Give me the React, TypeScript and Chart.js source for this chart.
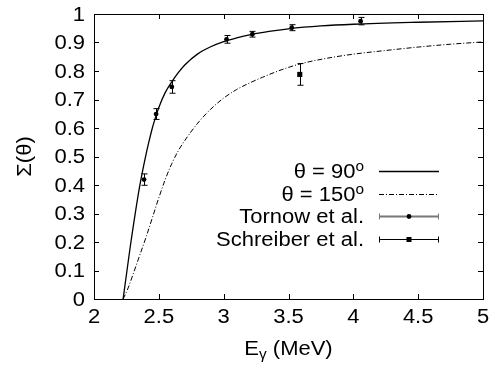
import React, { useEffect, useRef } from "react";
import { Chart, registerables } from "chart.js";

Chart.register(...registerables);

// ---------- data ----------
const xTicks = [2, 2.5, 3, 3.5, 4, 4.5, 5];
const xTickLabels = ["2", "2.5", "3", "3.5", "4", "4.5", "5"];
const yTicks = [0, 0.1, 0.2, 0.3, 0.4, 0.5, 0.6, 0.7, 0.8, 0.9, 1];
const yTickLabels = ["0", "0.1", "0.2", "0.3", "0.4", "0.5", "0.6", "0.7", "0.8", "0.9", "1"];

const curve90X = [2.2246, 2.25, 2.28, 2.3, 2.35, 2.4, 2.42, 2.45, 2.48, 2.5, 2.55, 2.6, 2.65, 2.7, 2.8, 2.9, 3.0, 3.1, 3.2, 3.35, 3.5, 3.75, 4.0, 4.5, 5.0];
const curve90Y = [0, 0.085, 0.185, 0.247, 0.39, 0.505, 0.545, 0.6, 0.645, 0.672, 0.725, 0.762, 0.794, 0.821, 0.86, 0.885, 0.903, 0.916, 0.927, 0.939, 0.948, 0.958, 0.964, 0.971, 0.976];

const curve150X = [2.2246, 2.26, 2.3, 2.35, 2.4, 2.45, 2.5, 2.55, 2.6, 2.65, 2.7, 2.8, 2.9, 3.0, 3.1, 3.2, 3.3, 3.45, 3.6, 3.8, 4.0, 4.25, 4.5, 4.75, 5.0];
const curve150Y = [0, 0.035, 0.085, 0.15, 0.215, 0.285, 0.355, 0.42, 0.475, 0.52, 0.556, 0.617, 0.666, 0.705, 0.735, 0.758, 0.778, 0.805, 0.826, 0.845, 0.859, 0.872, 0.884, 0.894, 0.902];

const tornowX = [2.386, 2.479, 2.6, 3.022, 3.221, 3.525, 4.056];
const tornowY = [0.419, 0.649, 0.744, 0.911, 0.929, 0.952, 0.975];
const tornowErr = [0.02, 0.019, 0.022, 0.0135, 0.01, 0.0105, 0.013];

const schreiberX = [3.587];
const schreiberY = [0.788];
const schreiberErr = [0.038];

const legendLabels = ["θ = 90", "θ = 150", "Tornow et al.", "Schreiber et al."];
const legendSup = ["o", "o", "", ""];
const xTitleMain = "E";
const xTitleSub = "γ";
const xTitleRest = " (MeV)";
const yTitle = "Σ(θ)";

const FONT = '"Liberation Sans", Arial, Helvetica, sans-serif';
const FS = 20;
const SX = 1.1;

function txt(
  ctx: CanvasRenderingContext2D,
  s: string,
  x: number,
  y: number,
  size: number,
  align: CanvasTextAlign,
  baseline: CanvasTextBaseline
) {
  ctx.save();
  ctx.font = `${size}px ${FONT}`;
  ctx.textAlign = align;
  ctx.textBaseline = baseline;
  ctx.translate(x, y);
  ctx.scale(SX, 1);
  ctx.fillText(s, 0, 0);
  ctx.restore();
}
function tw(ctx: CanvasRenderingContext2D, s: string, size: number) {
  ctx.save();
  ctx.font = `${size}px ${FONT}`;
  const w = ctx.measureText(s).width * SX;
  ctx.restore();
  return w;
}

const framePlugin = {
  id: "frame",
  afterDatasetsDraw(chart: any) {
    const ctx: CanvasRenderingContext2D = chart.ctx;
    const xs = chart.scales.x;
    const ys = chart.scales.y;
    const { left, right, top, bottom } = chart.chartArea;
    ctx.save();
    ctx.strokeStyle = "#000";
    ctx.fillStyle = "#000";
    ctx.lineWidth = 1;

    // error bars
    const drawErr = (xa: number[], ya: number[], ea: number[]) => {
      for (let i = 0; i < xa.length; i++) {
        const px = Math.round(xs.getPixelForValue(xa[i])) + 0.5;
        const y1 = ys.getPixelForValue(ya[i] - ea[i]);
        const y2 = ys.getPixelForValue(ya[i] + ea[i]);
        ctx.beginPath();
        ctx.moveTo(px, y1);
        ctx.lineTo(px, y2);
        ctx.moveTo(px - 3, y1);
        ctx.lineTo(px + 3, y1);
        ctx.moveTo(px - 3, y2);
        ctx.lineTo(px + 3, y2);
        ctx.stroke();
      }
    };
    drawErr(tornowX, tornowY, tornowErr);
    drawErr(schreiberX, schreiberY, schreiberErr);

    // border
    ctx.strokeRect(Math.round(left) + 0.5, Math.round(top) + 0.5, Math.round(right - left), Math.round(bottom - top));

    // ticks (inward, mirrored)
    const TL = 5;
    ctx.beginPath();
    xTicks.forEach((v) => {
      const px = Math.round(xs.getPixelForValue(v)) + 0.5;
      ctx.moveTo(px, bottom);
      ctx.lineTo(px, bottom - TL);
      ctx.moveTo(px, top);
      ctx.lineTo(px, top + TL);
    });
    yTicks.forEach((v) => {
      const py = Math.round(ys.getPixelForValue(v)) + 0.5;
      ctx.moveTo(left, py);
      ctx.lineTo(left + TL, py);
      ctx.moveTo(right, py);
      ctx.lineTo(right - TL, py);
    });
    ctx.stroke();

    // tick labels
    xTicks.forEach((v, i) => {
      txt(ctx, xTickLabels[i], xs.getPixelForValue(v), bottom + 18, FS, "center", "middle");
    });
    yTicks.forEach((v, i) => {
      txt(ctx, yTickLabels[i], left - 9, ys.getPixelForValue(v) + 1, FS, "right", "middle");
    });

    // y title
    ctx.save();
    ctx.translate(25, (top + bottom) / 2);
    ctx.rotate(-Math.PI / 2);
    txt(ctx, yTitle, 0, 0, FS, "center", "middle");
    ctx.restore();

    // x title with subscript
    const wE = tw(ctx, xTitleMain, FS);
    const wS = tw(ctx, xTitleSub, 14);
    const wR = tw(ctx, xTitleRest, FS);
    let tx = (left + right) / 2 - (wE + wS + wR) / 2;
    const baseY = 355;
    txt(ctx, xTitleMain, tx, baseY, FS, "left", "alphabetic");
    tx += wE;
    txt(ctx, xTitleSub, tx, baseY + 4, 14, "left", "alphabetic");
    tx += wS;
    txt(ctx, xTitleRest, tx, baseY, FS, "left", "alphabetic");

    // legend
    const rowsY = [171, 193.5, 216, 238.5];
    const textRight = 364;
    const sx1 = 379;
    const sx2 = 439;
    const sxm = 409;
    legendLabels.forEach((lab, i) => {
      const y = rowsY[i];
      const base = y + 7;
      if (legendSup[i]) {
        const wsup = tw(ctx, legendSup[i], 14);
        txt(ctx, legendSup[i], textRight, base - 7, 14, "right", "alphabetic");
        txt(ctx, lab, textRight - wsup, base, FS, "right", "alphabetic");
      } else {
        txt(ctx, lab, textRight, base, FS, "right", "alphabetic");
      }
      const ly = Math.round(y) + 0.5;
      ctx.setLineDash([]);
      if (i === 0) {
        ctx.lineWidth = 1.3;
        ctx.beginPath();
        ctx.moveTo(sx1, ly);
        ctx.lineTo(sx2, ly);
        ctx.stroke();
      } else if (i === 1) {
        ctx.lineWidth = 1;
        ctx.setLineDash([5, 2, 1, 2]);
        ctx.beginPath();
        ctx.moveTo(sx1, ly);
        ctx.lineTo(sx2, ly);
        ctx.stroke();
        ctx.setLineDash([]);
      } else {
        const gray = i === 2;
        ctx.strokeStyle = gray ? "#777" : "#000";
        ctx.lineWidth = gray ? 2 : 1;
        ctx.beginPath();
        ctx.moveTo(sx1, ly);
        ctx.lineTo(sx2, ly);
        ctx.stroke();
        ctx.lineWidth = 1;
        ctx.beginPath();
        ctx.moveTo(sx1 + 0.5, ly - 3);
        ctx.lineTo(sx1 + 0.5, ly + 3);
        ctx.moveTo(sx2 - 0.5, ly - 3);
        ctx.lineTo(sx2 - 0.5, ly + 3);
        ctx.stroke();
        ctx.strokeStyle = "#000";
        ctx.fillStyle = "#000";
        if (gray) {
          ctx.beginPath();
          ctx.arc(sxm, ly, 2.4, 0, Math.PI * 2);
          ctx.fill();
        } else {
          ctx.fillRect(sxm - 2.5, ly - 2.5, 5, 5);
        }
      }
    });
    ctx.restore();
  },
};

export default function App() {
  const ref = useRef<HTMLCanvasElement | null>(null);
  useEffect(() => {
    document.body.style.margin = "0";
    const canvas = ref.current;
    if (!canvas) return;
    const chart = new Chart(canvas, {
      type: "scatter",
      data: {
        datasets: [
          {
            label: "θ = 90°",
            data: curve90X.map((x, i) => ({ x, y: curve90Y[i] })),
            showLine: true,
            borderColor: "#000",
            borderWidth: 1.3,
            pointRadius: 0,
            cubicInterpolationMode: "monotone",
          } as any,
          {
            label: "θ = 150°",
            data: curve150X.map((x, i) => ({ x, y: curve150Y[i] })),
            showLine: true,
            borderColor: "#000",
            borderWidth: 1,
            borderDash: [5, 2, 1, 2],
            pointRadius: 0,
            cubicInterpolationMode: "monotone",
          } as any,
          {
            label: "Tornow et al.",
            data: tornowX.map((x, i) => ({ x, y: tornowY[i] })),
            showLine: false,
            pointStyle: "circle",
            pointRadius: 2.4,
            pointBackgroundColor: "#000",
            pointBorderWidth: 0,
          } as any,
          {
            label: "Schreiber et al.",
            data: schreiberX.map((x, i) => ({ x, y: schreiberY[i] })),
            showLine: false,
            pointStyle: "rect",
            pointRadius: 3.6,
            pointBackgroundColor: "#000",
            pointBorderWidth: 0,
          } as any,
        ],
      },
      options: {
        responsive: false,
        animation: false,
        devicePixelRatio: 1,
        events: [],
        layout: { padding: { left: 94, right: 15, top: 14, bottom: 74 } },
        scales: {
          x: { type: "linear", min: 2, max: 5, display: false },
          y: { type: "linear", min: 0, max: 1, display: false },
        },
        plugins: { legend: { display: false }, tooltip: { enabled: false } },
      },
      plugins: [framePlugin],
    });
    return () => chart.destroy();
  }, []);
  return (
    <div style={{ width: 498, height: 373, background: "#fff" }}>
      <canvas ref={ref} width={498} height={373} style={{ display: "block" }} />
    </div>
  );
}
